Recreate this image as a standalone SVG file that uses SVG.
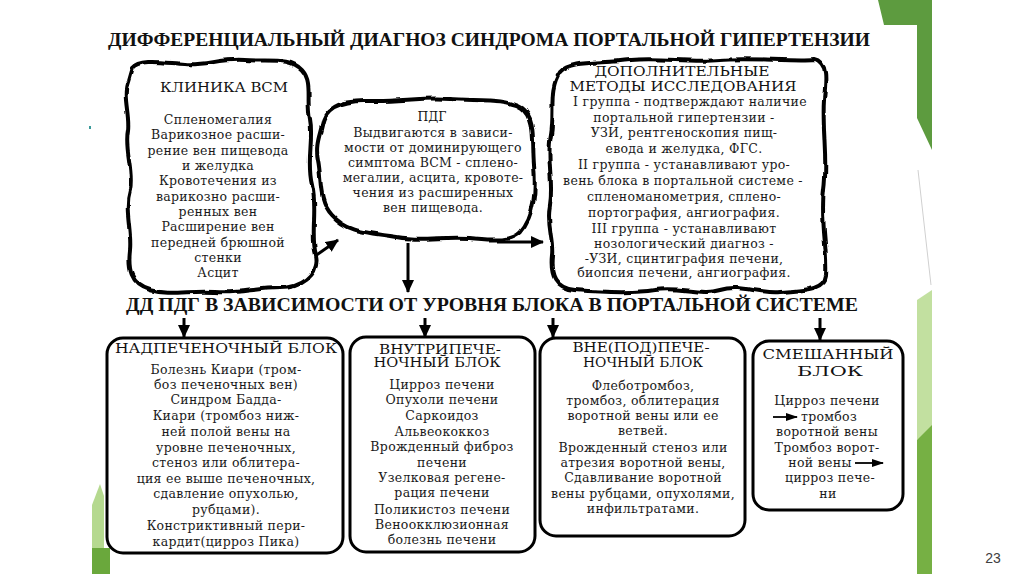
<svg xmlns="http://www.w3.org/2000/svg" width="1024" height="574" viewBox="0 0 1024 574">
<style>
.t{font-family:"DejaVu Serif","Liberation Serif",serif;font-size:12.5px;fill:#1a1a1a;text-anchor:middle;letter-spacing:0.3px}
.h{font-family:"DejaVu Serif","Liberation Serif",serif;font-size:13px;fill:#111;text-anchor:middle}
.big{font-family:"Liberation Serif",serif;font-weight:bold;font-size:18px;fill:#111;text-anchor:middle}
.blob{fill:#fff;stroke:#000;stroke-width:4;stroke-linejoin:round;filter:url(#rough)}
.box{fill:#fff;stroke:#000;stroke-width:3}
.ln{stroke:#000;stroke-width:3;fill:none}
.thin{stroke:#000;stroke-width:1.8;fill:none}
</style>
<defs>
<filter id="rough" x="-5%" y="-5%" width="110%" height="110%">
<feTurbulence type="fractalNoise" baseFrequency="0.06" numOctaves="2" seed="3" result="n"/>
<feDisplacementMap in="SourceGraphic" in2="n" scale="4" xChannelSelector="R" yChannelSelector="G"/>
</filter>
<marker id="ah" markerUnits="userSpaceOnUse" markerWidth="14" markerHeight="12" refX="12" refY="6" orient="auto">
<path d="M0,0 L13,6 L0,12 Z" fill="#000"/>
</marker>
<marker id="ahs" markerUnits="userSpaceOnUse" markerWidth="12" markerHeight="8" refX="11" refY="4" orient="auto">
<path d="M0,0 L12,4 L0,8 Z" fill="#000"/>
</marker>
</defs>
<rect width="1024" height="574" fill="#fff"/>
<g id="decor">
<polygon points="878,0 932,0 932,150 917,118 917,25 884,25" fill="#5d9b3f"/>
<polygon points="917,300 932,290 932,430 917,440" fill="#c2e0a0"/>
<polygon points="917,440 932,425 932,574 917,574" fill="#76b044"/>
<line x1="918" y1="170" x2="931" y2="285" stroke="#d0d0d0" stroke-width="1"/>
<polygon points="92,574 92,505 100,484 104,496 104,574" fill="#b5d98f"/>
<polygon points="92,548 110,548 110,574 92,574" fill="#6aa83c"/>
<rect x="89" y="126" width="2" height="3" fill="#3a9a9a"/>
<text x="993" y="563" style="font-family:'Liberation Sans',Arial,sans-serif;font-size:14px;fill:#404040;text-anchor:middle">23</text>
</g>
<text class="big" x="489" y="46" textLength="762" lengthAdjust="spacingAndGlyphs">ДИФФЕРЕНЦИАЛЬНЫЙ ДИАГНОЗ СИНДРОМА ПОРТАЛЬНОЙ ГИПЕРТЕНЗИИ</text>
<text class="big" x="492" y="311" textLength="732" lengthAdjust="spacingAndGlyphs">ДД  ПДГ В ЗАВИСИМОСТИ ОТ УРОВНЯ БЛОКА В ПОРТАЛЬНОЙ СИСТЕМЕ</text>
<g id="connectors">
<line class="ln" x1="298" y1="268" x2="338" y2="240" marker-end="url(#ah)"/>
<line class="ln" x1="497" y1="242" x2="543" y2="242" marker-end="url(#ah)"/>
<line class="ln" x1="408" y1="243" x2="408" y2="292" marker-end="url(#ah)"/>
<line class="ln" x1="184" y1="318" x2="184" y2="337" marker-end="url(#ah)"/>
<line class="ln" x1="425" y1="318" x2="425" y2="337" marker-end="url(#ah)"/>
<line class="ln" x1="553" y1="318" x2="553" y2="337" marker-end="url(#ah)"/>
<line class="ln" x1="820" y1="318" x2="820" y2="340" marker-end="url(#ah)"/>
</g>
<g id="clinic">
<path class="blob" d="M132,68 C140,58 165,63 185,64 C205,66 220,58 245,60 C270,62 290,57 302,70 C313,82 306,100 310,120 C314,140 306,160 312,185 C318,210 310,235 316,255 C320,276 300,288 280,288 C255,288 240,294 215,292 C190,290 170,296 150,290 C130,284 128,268 130,250 C132,230 124,210 130,190 C134,170 124,150 128,130 C130,115 122,95 128,82 Z"/>
<text class="h" x="224" y="92" textLength="128" lengthAdjust="spacingAndGlyphs">КЛИНИКА  ВСМ</text>
<text class="t" x="218" y="124">Спленомегалия</text>
<text class="t" x="218" y="139">Варикозное расши-</text>
<text class="t" x="218" y="155">рение вен пищевода</text>
<text class="t" x="218" y="170">и желудка</text>
<text class="t" x="218" y="185">Кровотечения из</text>
<text class="t" x="218" y="201">варикозно расши-</text>
<text class="t" x="218" y="216">ренных вен</text>
<text class="t" x="218" y="231">Расширение вен</text>
<text class="t" x="218" y="247">передней брюшной</text>
<text class="t" x="218" y="262">стенки</text>
<text class="t" x="218" y="277">Асцит</text>
</g>
<g id="pdg">
<path class="blob" d="M322,125 C325,105 345,100 370,101 C400,102 420,97 450,99 C480,101 505,98 522,108 C536,118 532,140 534,165 C536,190 535,215 520,232 C510,242 495,240 470,238 C440,236 420,242 390,236 C360,232 345,230 332,215 C318,200 322,180 318,160 C315,145 320,135 322,125 Z"/>
<text class="h" x="432" y="121" textLength="29" lengthAdjust="spacingAndGlyphs">ПДГ</text>
<text class="t" x="433" y="137">Выдвигаются в зависи-</text>
<text class="t" x="433" y="152">мости от доминирующего</text>
<text class="t" x="433" y="167">симптома ВСМ - сплено-</text>
<text class="t" x="433" y="182">мегалии, асцита, кровоте-</text>
<text class="t" x="433" y="197">чения из расширенных</text>
<text class="t" x="433" y="212">вен пищевода.</text>
</g>
<g id="methods">
<path class="blob" d="M560,72 C570,60 600,64 630,60 C660,57 690,63 720,60 C750,57 790,62 815,60 C828,62 826,80 824,100 C822,130 828,160 824,190 C820,220 828,250 826,275 C824,292 800,290 780,292 C760,294 740,284 720,290 C700,296 680,286 655,290 C630,294 600,292 575,290 C555,288 550,275 552,255 C554,240 546,225 550,205 C554,180 546,160 551,135 C555,110 548,90 560,72 Z"/>
<text class="h" x="682" y="76" textLength="175" lengthAdjust="spacingAndGlyphs">ДОПОЛНИТЕЛЬНЫЕ</text>
<text class="h" x="683" y="91" textLength="227" lengthAdjust="spacingAndGlyphs">МЕТОДЫ ИССЛЕДОВАНИЯ</text>
<text class="t" x="690" y="106">I группа - подтверждают наличие</text>
<text class="t" x="684" y="122">портальной гипертензии -</text>
<text class="t" x="684" y="137">УЗИ, рентгеноскопия пищ-</text>
<text class="t" x="684" y="153">евода и желудка, ФГС.</text>
<text class="t" x="684" y="169">II группа - устанавливают уро-</text>
<text class="t" x="683" y="185">вень блока в портальной системе -</text>
<text class="t" x="684" y="201">спленоманометрия, сплено-</text>
<text class="t" x="684" y="217">портография, ангиография.</text>
<text class="t" x="684" y="233">III группа - устанавливают</text>
<text class="t" x="684" y="248">нозологический диагноз -</text>
<text class="t" x="684" y="263">-УЗИ, сцинтиграфия печени,</text>
<text class="t" x="684" y="277">биопсия печени, ангиография.</text>
</g>
<g id="suprahepatic">
<rect class="box" x="107" y="338" width="236" height="215" rx="16"/>
<text class="h" x="226" y="353" textLength="222" lengthAdjust="spacingAndGlyphs">НАДПЕЧЕНОЧНЫЙ БЛОК</text>
<text class="t" x="226" y="374">Болезнь Киари (тром-</text>
<text class="t" x="226" y="389">боз печеночных вен)</text>
<text class="t" x="226" y="404">Синдром Бадда-</text>
<text class="t" x="226" y="420">Киари (тромбоз ниж-</text>
<text class="t" x="226" y="436">ней полой вены на</text>
<text class="t" x="226" y="452">уровне печеночных,</text>
<text class="t" x="226" y="467">стеноз или облитера-</text>
<text class="t" x="226" y="483">ция ее выше печеночных,</text>
<text class="t" x="226" y="498">сдавление опухолью,</text>
<text class="t" x="226" y="514">рубцами).</text>
<text class="t" x="226" y="530">Констриктивный пери-</text>
<text class="t" x="226" y="546">кардит(цирроз Пика)</text>
</g>
<g id="intrahepatic">
<rect class="box" x="350" y="337" width="185" height="215" rx="16"/>
<text class="h" x="440" y="354" textLength="122" lengthAdjust="spacingAndGlyphs">ВНУТРИПЕЧЕ-</text>
<text class="h" x="437" y="367" textLength="127" lengthAdjust="spacingAndGlyphs">НОЧНЫЙ БЛОК</text>
<text class="t" x="442" y="389">Цирроз печени</text>
<text class="t" x="442" y="404">Опухоли печени</text>
<text class="t" x="442" y="420">Саркоидоз</text>
<text class="t" x="442" y="436">Альвеококкоз</text>
<text class="t" x="442" y="451">Врожденный фиброз</text>
<text class="t" x="442" y="467">печени</text>
<text class="t" x="442" y="482">Узелковая регене-</text>
<text class="t" x="442" y="497">рация печени</text>
<text class="t" x="442" y="514">Поликистоз печени</text>
<text class="t" x="442" y="529">Веноокклюзионная</text>
<text class="t" x="442" y="544">болезнь печени</text>
</g>
<g id="extrahepatic">
<rect class="box" x="540" y="338" width="205" height="198" rx="16"/>
<text class="h" x="641" y="352" textLength="137" lengthAdjust="spacingAndGlyphs">ВНЕ(ПОД)ПЕЧЕ-</text>
<text class="h" x="643" y="367" textLength="120" lengthAdjust="spacingAndGlyphs">НОЧНЫЙ БЛОК</text>
<text class="t" x="643" y="390">Флеботромбоз,</text>
<text class="t" x="643" y="405">тромбоз, облитерация</text>
<text class="t" x="643" y="420">воротной вены или ее</text>
<text class="t" x="643" y="435">ветвей.</text>
<text class="t" x="643" y="452">Врожденный стеноз или</text>
<text class="t" x="643" y="467">атрезия воротной вены,</text>
<text class="t" x="643" y="482">Сдавливание воротной</text>
<text class="t" x="643" y="498">вены рубцами, опухолями,</text>
<text class="t" x="643" y="513">инфильтратами.</text>
</g>
<g id="mixed">
<rect class="box" x="753" y="341" width="150" height="169" rx="16"/>
<text class="h" x="828" y="359" textLength="131" lengthAdjust="spacingAndGlyphs">СМЕШАННЫЙ</text>
<text class="h" x="830" y="376" textLength="66" lengthAdjust="spacingAndGlyphs">БЛОК</text>
<text class="t" x="827" y="405">Цирроз печени</text>
<line class="thin" x1="773" y1="417" x2="797" y2="417" marker-end="url(#ahs)"/>
<text class="t" x="829" y="421">тромбоз</text>
<text class="t" x="827" y="436">воротной вены</text>
<text class="t" x="827" y="452">Тромбоз ворот-</text>
<text class="t" x="820" y="467">ной вены</text>
<line class="thin" x1="855" y1="463" x2="883" y2="463" marker-end="url(#ahs)"/>
<text class="t" x="830" y="482">цирроз пече-</text>
<text class="t" x="828" y="498">ни</text>
</g>
</svg>
